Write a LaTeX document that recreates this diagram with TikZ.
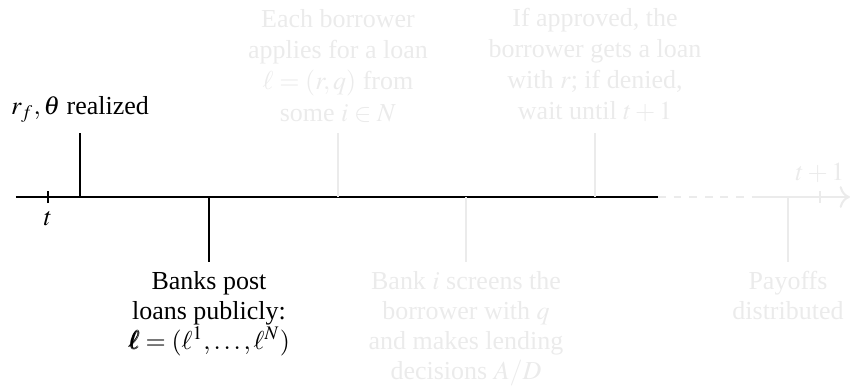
\documentclass[tikz,border=0pt]{standalone}
\usepackage{mathptmx}
\usepackage{bm}
\usepackage[no-math]{fontspec}
\setmainfont{Liberation Serif}
\usetikzlibrary{positioning,arrows.meta}
\colorlet{faded}{black!8}

\begin{document}
\begin{tikzpicture}[x=0.385pt, y=0.385pt, >={To[length=4pt]},
  lbl/.style={align=center, inner sep=0pt, font=\fontsize{10}{12}\selectfont},
  lblb/.style={lbl, font=\fontsize{10}{11.5}\selectfont},
  tick/.style={line width=0.4pt}]
  \useasboundingbox (0,0) rectangle (851,387);

  % time axis
  \coordinate (start) at (16,190);
  \coordinate (now) at (658,190);
  \coordinate (later) at (755,190);
  \coordinate (stop) at (850,190);
  \draw[thick] (start) -- (now);
  \draw[faded, thick, dashed] (now) -- (later);
  \draw[faded, thick, ->] (later) -- (stop);

  % periods
  \coordinate (tlo) at (48,184);
  \coordinate (thi) at (48,196);
  \draw[tick] (tlo) -- (thi);
  \node[lbl, below=3pt of tlo] (tlab) {$t$};
  \coordinate (nlo) at (820,184);
  \coordinate (nhi) at (820,196);
  \draw[tick, faded] (nlo) -- (nhi);
  \node[lbl, faded, above=3pt of nhi] (nlab) {$t+1$};

  % events
  \coordinate (shock) at (80,190);
  \coordinate (shocktip) at (80,254);
  \draw (shock) -- (shocktip);
  \node[lbl, above=4pt of shocktip] (shocklab) {$r_f, \theta$ realized};

  \coordinate (post) at (209,190);
  \coordinate (posttip) at (209,125);
  \draw (post) -- (posttip);
  \node[lblb, below=3.5pt of posttip] (postlab) {Banks post\\ loans publicly:\\ $\bm{\ell} = (\ell^1, \ldots, \ell^N)$};

  \coordinate (apply) at (338,190);
  \coordinate (applytip) at (338,254);
  \draw[faded] (apply) -- (applytip);
  \node[lbl, faded, above=4pt of applytip] (applylab) {Each borrower\\ applies for a loan\\ $\ell = (r, q)$ from\\ some $i \in N$};

  \coordinate (screen) at (466,190);
  \coordinate (screentip) at (466,125);
  \draw[faded] (screen) -- (screentip);
  \node[lblb, faded, below=3.5pt of screentip] (screenlab) {Bank $i$ screens the\\ borrower with $q$\\ and makes lending\\ decisions $A/D$};

  \coordinate (lend) at (595,190);
  \coordinate (lendtip) at (595,254);
  \draw[faded] (lend) -- (lendtip);
  \node[lbl, faded, above=4pt of lendtip] (lendlab) {If approved, the\\ borrower gets a loan\\ with $r$; if denied,\\ wait until $t+1$};

  \coordinate (pay) at (788,190);
  \coordinate (paytip) at (788,125);
  \draw[faded] (pay) -- (paytip);
  \node[lblb, faded, below=3.5pt of paytip] (paylab) {Payoffs\\ distributed};
\end{tikzpicture}
\end{document}
